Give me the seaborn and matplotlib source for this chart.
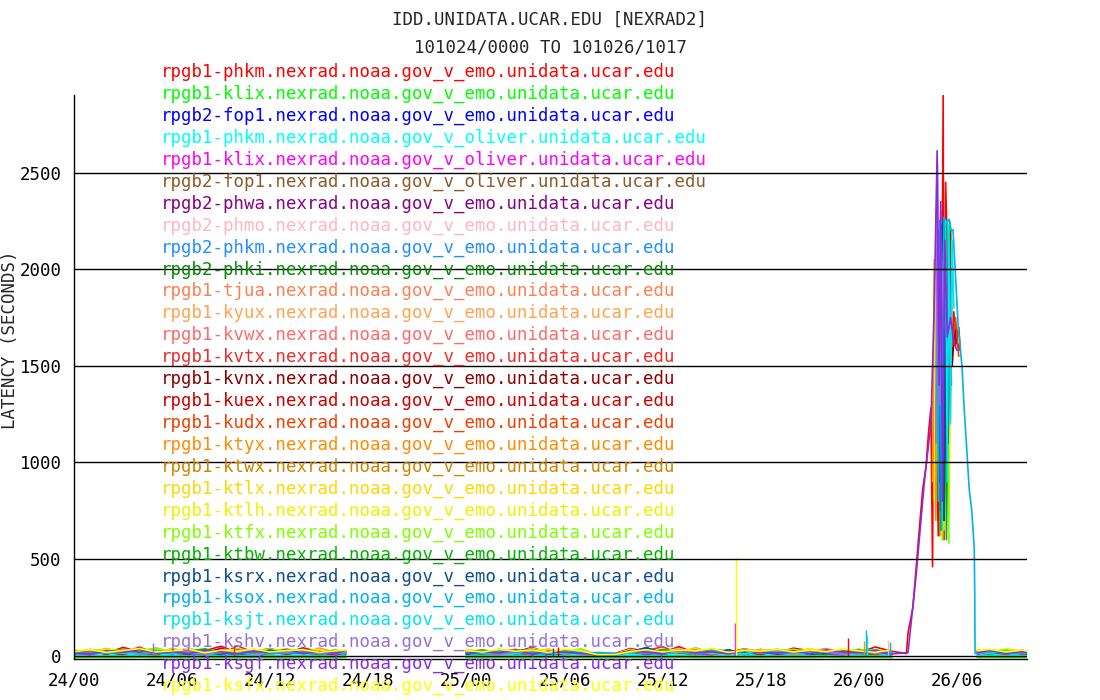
import matplotlib
matplotlib.use("Agg")
import matplotlib.pyplot as plt
import pandas as pd
import seaborn as sns

# --- chart text -------------------------------------------------------------
title_lines = ["IDD.UNIDATA.UCAR.EDU [NEXRAD2]", "101024/0000 TO 101026/1017"]
y_label = "LATENCY (SECONDS)"
x_tick_hours = [0, 6, 12, 18, 24, 30, 36, 42, 48, 54]
x_tick_labels = ["24/00", "24/06", "24/12", "24/18", "25/00",
                 "25/06", "25/12", "25/18", "26/00", "26/06"]
y_ticks = [0, 500, 1000, 1500, 2000, 2500]

feed_names = [
    "rpgb1-phkm.nexrad.noaa.gov_v_emo.unidata.ucar.edu",
    "rpgb1-klix.nexrad.noaa.gov_v_emo.unidata.ucar.edu",
    "rpgb2-fop1.nexrad.noaa.gov_v_emo.unidata.ucar.edu",
    "rpgb1-phkm.nexrad.noaa.gov_v_oliver.unidata.ucar.edu",
    "rpgb1-klix.nexrad.noaa.gov_v_oliver.unidata.ucar.edu",
    "rpgb2-fop1.nexrad.noaa.gov_v_oliver.unidata.ucar.edu",
    "rpgb2-phwa.nexrad.noaa.gov_v_emo.unidata.ucar.edu",
    "rpgb2-phmo.nexrad.noaa.gov_v_emo.unidata.ucar.edu",
    "rpgb2-phkm.nexrad.noaa.gov_v_emo.unidata.ucar.edu",
    "rpgb2-phki.nexrad.noaa.gov_v_emo.unidata.ucar.edu",
    "rpgb1-tjua.nexrad.noaa.gov_v_emo.unidata.ucar.edu",
    "rpgb1-kyux.nexrad.noaa.gov_v_emo.unidata.ucar.edu",
    "rpgb1-kvwx.nexrad.noaa.gov_v_emo.unidata.ucar.edu",
    "rpgb1-kvtx.nexrad.noaa.gov_v_emo.unidata.ucar.edu",
    "rpgb1-kvnx.nexrad.noaa.gov_v_emo.unidata.ucar.edu",
    "rpgb1-kuex.nexrad.noaa.gov_v_emo.unidata.ucar.edu",
    "rpgb1-kudx.nexrad.noaa.gov_v_emo.unidata.ucar.edu",
    "rpgb1-ktyx.nexrad.noaa.gov_v_emo.unidata.ucar.edu",
    "rpgb1-ktwx.nexrad.noaa.gov_v_emo.unidata.ucar.edu",
    "rpgb1-ktlx.nexrad.noaa.gov_v_emo.unidata.ucar.edu",
    "rpgb1-ktlh.nexrad.noaa.gov_v_emo.unidata.ucar.edu",
    "rpgb1-ktfx.nexrad.noaa.gov_v_emo.unidata.ucar.edu",
    "rpgb1-ktbw.nexrad.noaa.gov_v_emo.unidata.ucar.edu",
    "rpgb1-ksrx.nexrad.noaa.gov_v_emo.unidata.ucar.edu",
    "rpgb1-ksox.nexrad.noaa.gov_v_emo.unidata.ucar.edu",
    "rpgb1-ksjt.nexrad.noaa.gov_v_emo.unidata.ucar.edu",
    "rpgb1-kshv.nexrad.noaa.gov_v_emo.unidata.ucar.edu",
    "rpgb1-ksgf.nexrad.noaa.gov_v_emo.unidata.ucar.edu",
    "rpgb1-ksfx.nexrad.noaa.gov_v_emo.unidata.ucar.edu",
]

feed_colors = [
    "#FF0000", "#00FF00", "#0000FF", "#00FFFF", "#FF00FF", "#8B5A2B",
    "#880088", "#FFB6C1", "#1E90FF", "#008B00", "#FF7F50", "#FFA54F",
    "#FF6A6A", "#EE2C2C", "#8B0000", "#CD0000", "#EE4000", "#FF8C00",
    "#CD8500", "#FFD700", "#F0F000", "#7FFF00", "#00B200", "#104E8B",
    "#00B2EE", "#00E5EE", "#9370DB", "#8A2BE2", "#FFFF00",
]

# --- data -------------------------------------------------------------------
# hours since 24/00 ; no reports 16.6 -> 24 and 50 -> 55.25 (except spike feeds)
base_hours = [0, 1, 2, 3, 4, 5, 6, 7, 8, 9, 10, 11, 12, 13, 14, 15, 16, 16.6,
              24, 25, 26, 27, 28, 29, 30, 31, 32, 33, 34, 35, 36, 37, 38, 39,
              40, 41, 42, 43, 44, 45, 46, 47, 48, 49, 50,
              55.25, 56, 57, 58, 58.28]

# latency (s) of each feed at base_hours
baseline_latency = [
    [15, 30, 12, 42, 20, 10, 35, 18, 25, 48, 14, 22, 32, 12, 40, 18, 26, 16,
     20, 12, 30, 18, 42, 14, 24, 10, 6, 8, 36, 22, 16, 46, 12, 28, 18, 34, 20, 14, 38, 24, 10, 26, 16, 44, 22,
     18, 30, 14, 24, 20],
    [-8, -7, -8, -8, -6, -8, -7, -8, -8, -7, -8, -6, -8, -8, -7, -8, -8, -7,
     -8, -8, -7, -8, -8, -6, -8, -7, -8, -8, -7, -8, -8, -6, -8, -8, -7, -8, -8, -7, -8, -8, -6, -8, -8, -7, -8,
     -8, -7, -8, -8, -7],
    [6, 18, 10, 28, 8, 14, 4, 22, 12, 6, 32, 10, 16, 8, 24, 12, 6, 10,
     8, 20, 12, 6, 26, 10, 16, 4, 4, 2, 18, 40, 14, 8, 18, 10, 28, 12, 6, 16, 22, 8, 14, 10, 24, 12, 18,
     10, 20, 8, 16, 12],
    [4, 5, 4, 4, 6, 4, 5, 4, 4, 5, 4, 6, 4, 4, 5, 4, 4, 5,
     4, 4, 5, 4, 6, 4, 4, 5, 4, 4, 5, 4, 4, 6, 4, 5, 4, 4, 5, 4, 4, 6, 4, 5, 4, 4, 5,
     4, 5, 4, 4, 5],
    [12, 4, 36, 8, 18, 6, 24, 10, 4, 40, 14, 6, 20, 8, 30, 12, 4, 16,
     10, 24, 6, 14, 4, 32, 8, 18, 4, 3, 22, 6, 16, 38, 10, 4, 26, 12, 20, 6, 14, 28, 8, 4, 18, 10, 12,
     6, 24, 10, 14, 8],
    [20, 8, 14, 30, 6, 16, 24, 10, 18, 6, 28, 12, 8, 22, 14, 6, 18, 10,
     16, 6, 24, 12, 8, 20, 10, 14, 4, 4, 28, 8, 18, 12, 22, 6, 16, 32, 10, 20, 8, 14, 26, 6, 18, 12, 16,
     14, 8, 22, 10, 18],
    [10, 24, 16, 6, 34, 12, 18, 8, 26, 14, 6, 20, 36, 10, 16, 24, 8, 12,
     22, 10, 16, 28, 6, 18, 12, 24, 4, 6, 14, 30, 8, 20, 10, 16, 26, 6, 22, 12, 18, 8, 28, 14, 10, 20, 6,
     16, 26, 10, 18, 12],
    [28, 14, 6, 20, 10, 40, 16, 8, 24, 12, 18, 30, 6, 14, 22, 10, 32, 8,
     18, 26, 8, 14, 36, 10, 20, 6, 4, 4, 12, 24, 16, 8, 30, 14, 6, 22, 18, 10, 28, 12, 20, 8, 16, 26, 10,
     22, 12, 18, 28, 10],
    [14, 6, 22, 12, 28, 8, 16, 38, 10, 20, 6, 26, 12, 18, 8, 24, 14, 10,
     12, 22, 8, 28, 14, 6, 20, 16, 4, 6, 24, 10, 18, 32, 8, 14, 22, 6, 26, 12, 16, 10, 20, 30, 8, 18, 14,
     10, 22, 14, 8, 18],
    [8, 18, 26, 10, 16, 6, 32, 14, 8, 22, 12, 20, 6, 28, 16, 10, 18, 24,
     6, 16, 26, 10, 20, 8, 30, 12, 4, 4, 18, 8, 24, 14, 6, 34, 10, 20, 16, 8, 26, 12, 6, 22, 14, 10, 24,
     12, 18, 8, 26, 14],
    [24, 10, 18, 32, 8, 20, 14, 26, 6, 16, 36, 12, 22, 8, 18, 28, 10, 14,
     20, 8, 32, 16, 10, 24, 6, 18, 4, 4, 28, 12, 20, 8, 40, 14, 10, 26, 18, 6, 22, 32, 12, 16, 8, 24, 20,
     14, 24, 8, 30, 16],
    [16, 30, 8, 22, 14, 40, 10, 18, 28, 6, 20, 12, 32, 16, 8, 24, 14, 20,
     26, 10, 18, 6, 30, 14, 22, 8, 4, 6, 16, 26, 10, 34, 12, 20, 8, 24, 16, 30, 6, 18, 12, 28, 10, 22, 14,
     20, 10, 26, 14, 18],
    [12, 22, 34, 8, 18, 26, 10, 16, 6, 30, 14, 24, 8, 20, 12, 38, 16, 10,
     14, 28, 10, 20, 6, 24, 16, 8, 4, 4, 32, 12, 18, 26, 8, 22, 14, 6, 28, 16, 10, 20, 36, 12, 18, 8, 26,
     16, 10, 24, 12, 20],
    [18, 8, 26, 14, 44, 10, 20, 12, 28, 6, 50, 16, 10, 24, 14, 32, 8, 18,
     22, 12, 6, 30, 16, 24, 10, 18, 4, 4, 14, 26, 45, 12, 20, 8, 28, 16, 6, 24, 14, 34, 10, 18, 22, 8, 16,
     24, 14, 8, 20, 12],
    [10, 20, 8, 30, 16, 6, 24, 12, 18, 34, 8, 14, 22, 10, 28, 16, 6, 20,
     12, 18, 26, 8, 22, 14, 6, 28, 4, 4, 20, 10, 16, 24, 8, 32, 14, 20, 10, 18, 26, 6, 16, 22, 12, 8, 24,
     18, 10, 22, 14, 8],
    [26, 12, 18, 8, 22, 32, 14, 6, 24, 16, 10, 28, 18, 8, 20, 12, 26, 14,
     8, 24, 16, 30, 10, 18, 12, 22, 4, 4, 26, 14, 8, 20, 32, 10, 16, 24, 6, 28, 12, 18, 10, 24, 16, 30, 8,
     20, 12, 26, 8, 16],
    [14, 28, 10, 20, 6, 26, 16, 36, 12, 22, 8, 18, 30, 10, 16, 24, 6, 22,
     18, 10, 28, 14, 20, 8, 26, 12, 4, 4, 16, 30, 10, 22, 6, 24, 18, 12, 32, 8, 20, 14, 26, 10, 18, 6, 28,
     12, 20, 28, 10, 18],
    [20, 12, 26, 16, 8, 32, 18, 10, 24, 14, 28, 6, 20, 34, 12, 18, 24, 10,
     28, 16, 8, 22, 12, 30, 6, 20, 4, 4, 24, 10, 32, 16, 22, 8, 18, 28, 12, 24, 6, 20, 14, 30, 10, 26, 18,
     24, 16, 30, 12, 20],
    [16, 24, 10, 34, 18, 8, 22, 28, 12, 20, 6, 26, 14, 32, 10, 18, 22, 12,
     24, 8, 18, 32, 14, 22, 10, 26, 4, 4, 20, 12, 28, 18, 6, 24, 16, 30, 10, 20, 14, 26, 8, 22, 32, 12, 18,
     26, 14, 20, 10, 24],
    [22, 32, 14, 18, 26, 10, 36, 16, 24, 12, 30, 20, 8, 26, 18, 34, 12, 24,
     18, 30, 12, 24, 16, 34, 10, 22, 4, 6, 28, 18, 12, 26, 36, 14, 20, 8, 30, 22, 16, 28, 12, 24, 18, 32, 14,
     22, 30, 16, 26, 18],
    [28, 18, 34, 24, 12, 30, 20, 38, 14, 26, 32, 16, 24, 36, 20, 28, 14, 22,
     32, 20, 26, 14, 36, 22, 28, 18, 4, 4, 30, 16, 24, 34, 18, 26, 12, 32, 22, 28, 16, 36, 20, 24, 30, 14, 26,
     30, 20, 34, 24, 16],
    [18, 30, 22, 12, 28, 36, 16, 24, 32, 20, 10, 26, 34, 18, 24, 12, 30, 20,
     24, 14, 32, 20, 28, 10, 26, 34, 6, 4, 22, 30, 16, 26, 12, 34, 20, 28, 14, 24, 32, 18, 26, 10, 30, 22, 16,
     26, 18, 30, 14, 24],
    [24, 14, 20, 30, 18, 26, 12, 22, 34, 16, 28, 20, 10, 24, 32, 18, 22, 14,
     20, 28, 16, 24, 32, 12, 22, 18, 4, 4, 26, 14, 30, 20, 16, 28, 24, 10, 22, 32, 18, 26, 14, 20, 28, 16, 24,
     18, 28, 20, 14, 26],
    [12, 20, 8, 26, 14, 18, 10, 24, 16, 6, 22, 12, 28, 10, 18, 14, 24, 8,
     16, 10, 22, 14, 26, 8, 18, 12, 4, 4, 20, 40, 14, 24, 10, 18, 28, 12, 20, 8, 16, 24, 10, 22, 14, 18, 12,
     20, 12, 16, 24, 10],
    [10, 16, 12, 20, 10, 14, 24, 12, 10, 18, 12, 22, 10, 16, 12, 20, 10, 14,
     12, 18, 10, 24, 14, 12, 20, 10, 16, 12, 14, 22, 10, 18, 12, 26, 14, 10, 20, 12, 16, 10, 22, 14, 18, 30, 12,
     14, 20, 12, 18, 10],
    [16, 10, 22, 14, 8, 26, 12, 18, 10, 24, 16, 8, 20, 14, 28, 10, 18, 12,
     22, 12, 18, 8, 26, 14, 10, 20, 4, 4, 16, 24, 10, 18, 28, 12, 20, 8, 24, 14, 18, 10, 26, 16, 12, 22, 14,
     18, 10, 24, 14, 20],
    [8, 18, 12, 28, 10, 12, 16, 22, 8, 14, 26, 10, 20, 12, 24, 8, 16, 10,
     14, 24, 8, 18, 30, 12, 20, 6, 4, 4, 22, 10, 16, 26, 8, 18, 12, 28, 14, 20, 10, 24, 16, 8, 22, 12, 18,
     10, 24, 16, 12, 20],
    [14, 8, 24, 16, 30, 12, 20, 10, 26, 18, 8, 22, 14, 32, 10, 20, 12, 26,
     10, 20, 14, 28, 8, 22, 16, 12, 4, 4, 24, 18, 10, 30, 14, 20, 8, 26, 16, 12, 22, 10, 28, 18, 14, 24, 8,
     16, 26, 12, 20, 14],
    [20, 30, 16, 26, 36, 18, 24, 32, 14, 28, 22, 34, 18, 26, 30, 16, 24, 28,
     26, 18, 32, 22, 28, 16, 34, 24, 4, 4, 20, 30, 18, 28, 24, 36, 16, 26, 22, 32, 18, 28, 20, 34, 24, 16, 30,
     24, 32, 18, 28, 22],
]

# big latency event on the 26th (hours since 24/00, seconds)
spike_red_hours = [50.9, 51.0, 51.3, 51.55, 51.7, 51.9, 52.1, 52.25, 52.4, 52.5, 52.55, 52.7,
                   52.85, 52.95, 53.05, 53.15, 53.2, 53.3, 53.45, 53.6, 53.75, 53.8, 53.9, 54.0,
                   54.1, 54.2]
spike_red_vals = [10, 116, 250, 507, 662, 862, 978, 1149, 1283, 460, 1300, 1500,
                  620, 2000, 1400, 2900, 600, 2450, 1900, 1750, 1630, 1780, 1600, 1650,
                  1700, 1580]
spike_violet_hours = [51.0, 51.5, 52.0, 52.4, 52.6, 52.78, 52.9, 53.0, 53.1, 53.25, 53.4, 53.6, 53.8, 54.0]
spike_violet_vals = [15, 420, 900, 1200, 1800, 2614, 1400, 2350, 800, 2150, 1650, 1750, 1620, 1580]
spike_ksrx_hours = [52.85, 52.9, 52.95, 53.0, 53.05, 53.1, 53.15, 53.2, 53.25, 53.3, 53.35, 53.45, 53.55, 53.65]
spike_ksrx_vals = [2200, 900, 2250, 750, 2230, 800, 2260, 700, 2250, 1000, 2240, 1100, 2150, 1400]
spike_ksox_hours = [52.75, 52.85, 52.95, 53.05, 53.2, 53.35, 53.5, 53.65, 53.75, 53.9,
                    54.07, 54.3, 54.43, 54.6, 54.74, 54.9, 55.05, 55.08, 55.1]
spike_ksox_vals = [2100, 800, 2250, 650, 2270, 2240, 2260, 2200, 2205, 1972,
                   1700, 1497, 1283, 1057, 863, 747, 556, 326, 10]
spike_ktlh_hours = [52.6, 52.7, 52.8, 52.95, 53.1, 53.3, 53.5, 53.7]
spike_ktlh_vals = [800, 2300, 1000, 2250, 600, 1900, 700, 2150]
spike_ktbw_hours = [52.75, 52.85, 53.0, 53.2, 53.35, 53.55]
spike_ktbw_vals = [1500, 2200, 650, 2100, 600, 2250]
spike_ktfx_hours = [53.0, 53.1, 53.4, 53.5]
spike_ktfx_vals = [2200, 600, 2250, 580]
spike_ktyx_hours = [52.5, 52.6, 52.7, 52.9, 53.05]
spike_ktyx_vals = [900, 2050, 700, 2150, 1200]
spike_kvtx_hours = [52.55, 52.65, 52.8, 53.0]
spike_kvtx_vals = [1250, 1950, 900, 2300]
spike_kshv_hours = [52.7, 52.8, 52.9, 53.0, 53.2]
spike_kshv_vals = [1100, 2550, 1300, 2200, 1700]
spike_phkm2_hours = [52.9, 53.0, 53.1, 53.3, 53.4]
spike_phkm2_vals = [1900, 800, 2200, 900, 2100]
spike_kuex_hours = [52.6, 52.7, 52.85, 53.0, 53.1]
spike_kuex_vals = [1100, 1800, 700, 2000, 1500]
spike_ktlx_hours = [52.65, 52.75, 52.9, 53.05, 53.2, 53.4]
spike_ktlx_vals = [1300, 2280, 900, 2200, 650, 2000]
spike_ksjt_hours = [53.3, 53.4, 53.5, 53.6, 53.7, 53.8]
spike_ksjt_vals = [2250, 900, 2230, 1200, 2150, 1800]
spike_ktwx_hours = [52.7, 52.8, 52.95, 53.1, 53.25]
spike_ktwx_vals = [1000, 2100, 620, 2200, 1500]
spike_kudx_hours = [52.6, 52.75, 52.9, 53.4, 53.7, 53.9, 54.1]
spike_kudx_vals = [1000, 2000, 1200, 1900, 1600, 1750, 1550]
spike_kvnx_hours = [53.4, 53.5, 53.6, 53.7, 53.85, 54.0, 54.2]
spike_kvnx_vals = [2000, 1100, 2200, 1500, 1700, 1620, 1580]

# isolated single-report spikes: feed index, hour, latency
event_feed = [26, 4, 28, 0, 24, 25, 17, 7, 24, 13, 23, 15]
event_hours = [4.8, 40.4, 40.5, 47.3, 48.4, 48.5, 48.3, 49.8, 49.9, 9.8, 29.3, 29.6]
event_vals = [65, 170, 512, 90, 130, 100, 75, 80, 70, 52, 40, 45]

spikes = {
    0: (spike_red_hours, spike_red_vals),
    8: (spike_phkm2_hours, spike_phkm2_vals),
    13: (spike_kvtx_hours, spike_kvtx_vals),
    14: (spike_kvnx_hours, spike_kvnx_vals),
    15: (spike_kuex_hours, spike_kuex_vals),
    16: (spike_kudx_hours, spike_kudx_vals),
    17: (spike_ktyx_hours, spike_ktyx_vals),
    18: (spike_ktwx_hours, spike_ktwx_vals),
    19: (spike_ktlx_hours, spike_ktlx_vals),
    20: (spike_ktlh_hours, spike_ktlh_vals),
    21: (spike_ktfx_hours, spike_ktfx_vals),
    22: (spike_ktbw_hours, spike_ktbw_vals),
    23: (spike_ksrx_hours, spike_ksrx_vals),
    24: (spike_ksox_hours, spike_ksox_vals),
    25: (spike_ksjt_hours, spike_ksjt_vals),
    26: (spike_kshv_hours, spike_kshv_vals),
    27: (spike_violet_hours, spike_violet_vals),
}


def segments(hours, vals, max_gap=1.01):
    """split a series wherever reports are missing for more than max_gap hours"""
    seg_h, seg_v = [hours[0]], [vals[0]]
    for prev, h, v in zip(hours[:-1], hours[1:], vals[1:]):
        if h - prev > max_gap:
            yield seg_h, seg_v
            seg_h, seg_v = [], []
        seg_h.append(h)
        seg_v.append(v)
    yield seg_h, seg_v


# --- plot -------------------------------------------------------------------
sns.set_style("white")
plt.rcParams["font.family"] = ["DejaVu Sans Mono"]
plt.rcParams["font.size"] = 12.5

fig = plt.figure(figsize=(11, 7), dpi=100)
ax = fig.add_axes([0.0673, 0.0586, 0.8664, 0.805])

split = base_hours.index(50) + 1
for i, color in enumerate(feed_colors):
    base = baseline_latency[i]
    sp_h, sp_v = spikes.get(i, ([], []))
    hours = base_hours[:split] + sp_h + base_hours[split:]
    vals = base[:split] + sp_v + base[split:]
    lw = 2.0 if i in (1, 3) else 1.2
    for seg_h, seg_v in segments(hours, vals):
        if len(seg_h) < 2:
            continue
        df = pd.DataFrame({"hour": seg_h, "latency": seg_v})
        sns.lineplot(data=df, x="hour", y="latency", ax=ax, color=color,
                     linewidth=lw, estimator=None, sort=False, legend=False)

for f, h, v in zip(event_feed, event_hours, event_vals):
    ax.vlines(h, 0, v, color=feed_colors[f], linewidth=1.0)

ax.set_xlim(0, 58.28)
ax.set_ylim(-18, 2900)
ax.set_xticks(x_tick_hours)
ax.set_xticklabels(x_tick_labels)
ax.set_yticks(y_ticks)
ax.set_yticklabels([str(t) for t in y_ticks])
ax.set_xlabel("")
ax.set_ylabel("")
ax.yaxis.grid(True, color="black", linewidth=1.0)
ax.xaxis.grid(False)
ax.set_axisbelow(False)
for side in ("top", "right"):
    ax.spines[side].set_visible(False)
for side in ("left", "bottom"):
    ax.spines[side].set_color("black")
    ax.spines[side].set_linewidth(1.0)
ax.tick_params(axis="y", direction="out", length=5, width=1, pad=4, colors="black")
ax.tick_params(axis="x", direction="in", length=6, width=1, pad=9, colors="black")

fig.text(10 / 1100, 1 - 340 / 700, y_label, rotation=90, ha="center", va="center")
fig.text(0.5, 1 - 20 / 700, title_lines[0], ha="center", va="center")
fig.text(0.5, 1 - 47 / 700, title_lines[1], ha="center", va="center")

for i, (name, color) in enumerate(zip(feed_names, feed_colors)):
    y_px = 72 + i * 21.93
    fig.text(161 / 1100, 1 - y_px / 700, name, color=color, ha="left", va="center")

fig.savefig("out.png", dpi=100)
